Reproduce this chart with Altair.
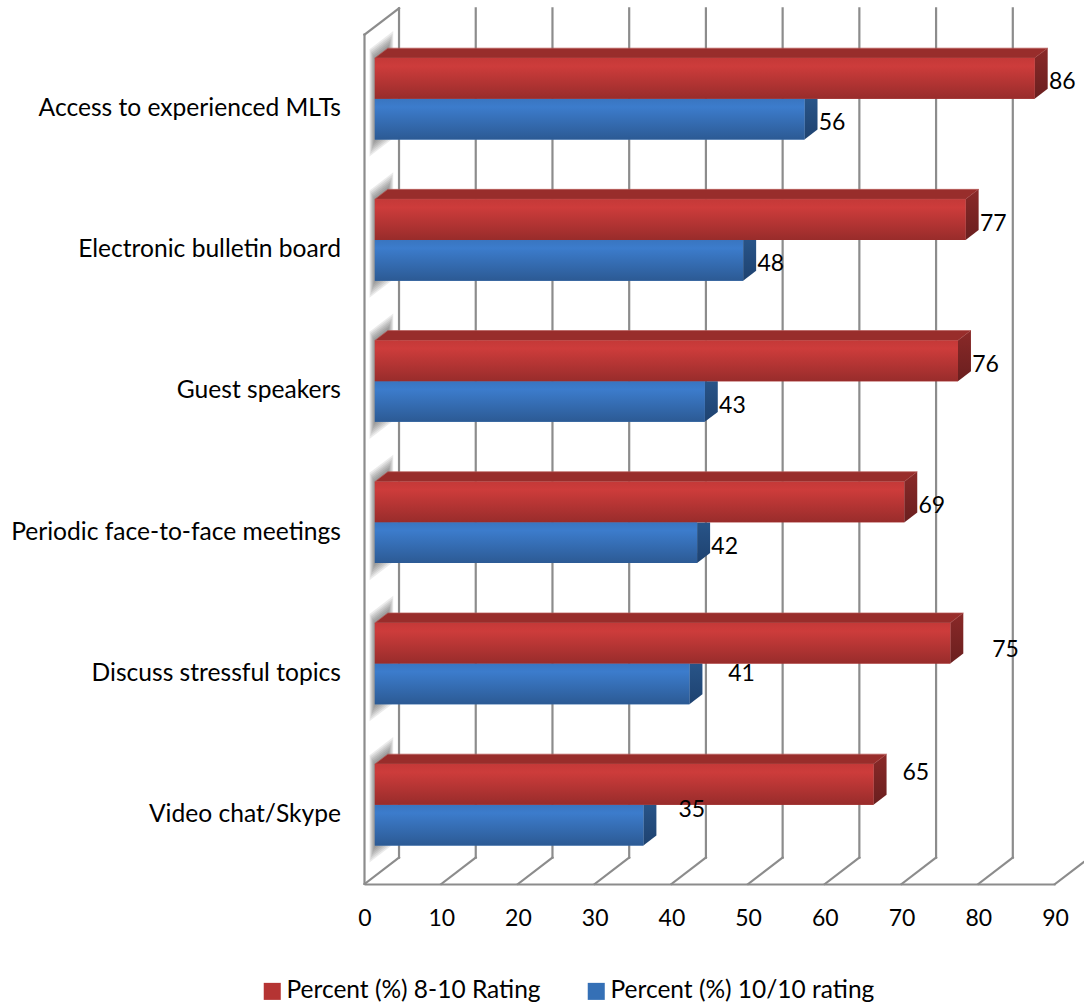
import json

import altair as alt
import pandas as pd

# Survey results, listed from the bottom row of the chart upward
CATEGORIES = [
    "Video chat/Skype",
    "Discuss stressful topics",
    "Periodic face-to-face meetings",
    "Guest speakers",
    "Electronic bulletin board",
    "Access to experienced MLTs",
]
HIGH_RATING = [65, 75, 69, 76, 77, 86]
TOP_RATING = [35, 41, 42, 43, 48, 56]
SERIES_HIGH = "Percent (%) 8-10 Rating"
SERIES_TOP = "Percent (%) 10/10 rating"
TICKS = list(range(0, 100, 10))

# Value labels that sit away from their usual spot: (series, row) -> (value units, row units)
LABEL_SHIFT = {
    (SERIES_HIGH, 1): (3.6, -0.02),
    (SERIES_TOP, 1): (3.2, 0.10),
    (SERIES_HIGH, 0): (1.9, 0.106),
    (SERIES_TOP, 0): (2.7, 0.134),
}

# Oblique projection of the chart box: depth 1 is the back wall
DEPTH_X = 4.5
DEPTH_Y = 0.187
BAR_FRONT = 0.30
BAR_BACK = 0.677
BAR_BOTTOM = 0.217
BAR_THICK = 0.288
WALL_TOP = 6.015
ROW_UNIT_PX = 141.2
FONT = "Lato"
GRID = "#8c8c8c"


def px(value, depth):
    return value + DEPTH_X * depth


def py(row, depth):
    return row + DEPTH_Y * depth


def gradient(*stops):
    return alt.LinearGradient(
        gradient="linear",
        x1=0, x2=0, y1=0, y2=1,
        stops=[alt.GradientStop(offset=o, color=c) for o, c in stops],
    )


x_scale = alt.Scale(domain=[0, 90], nice=False, zero=False)
y_scale = alt.Scale(domain=[0, 6.204], nice=False, zero=False)
X = lambda: alt.X("x:Q", scale=x_scale, title=None)
Y = lambda: alt.Y("y:Q", scale=y_scale, title=None)
X2 = alt.X2("x2:Q")
Y2 = alt.Y2("y2:Q")

# Box edges
edges = []
for t in TICKS:
    edges.append({"x": px(t, 1), "x2": px(t, 1), "y": py(0, 1), "y2": py(WALL_TOP, 1)})
    edges.append({"x": px(t, 0), "x2": px(t, 1), "y": py(0, 0), "y2": py(0, 1)})
edges.append({"x": px(0, 0), "x2": px(0, 0), "y": py(0, 0), "y2": py(WALL_TOP, 0)})
edges.append({"x": px(0, 0), "x2": px(0, 1), "y": py(WALL_TOP, 0), "y2": py(WALL_TOP, 1)})
edges_df = pd.DataFrame(edges)

# Soft shadow that each bar casts on the side wall, built from nested parallelograms
shadow = []
for row in range(len(CATEGORIES)):
    low = row + BAR_BOTTOM
    high = low + 2 * BAR_THICK
    for spread in (13, 11, 9, 7, 5, 3, 1):
        pad = spread / ROW_UNIT_PX
        wide = spread * 0.012
        for d in (BAR_FRONT - wide, BAR_BACK + wide):
            shadow.append({
                "x": px(0, d), "y": py(low - pad, d), "y2": py(high + pad, d),
                "group": f"{row}-{spread}",
            })
shadow_df = pd.DataFrame(shadow)


def bar_frames(values, series, row_base):
    """Front, top and end faces of one series' bars."""
    front, top, side = [], [], []
    for row, value in enumerate(values):
        low = row + row_base
        high = low + BAR_THICK
        front.append({"x": px(0, BAR_FRONT), "x2": px(value, BAR_FRONT),
                      "y": py(low, BAR_FRONT), "y2": py(high, BAR_FRONT), "series": series})
        for d in (BAR_FRONT, BAR_BACK):
            top.append({"y": py(high, d), "x": px(0, d), "x2": px(value, d), "group": row})
            # the lower series' end face stops where the upper bar starts
            side_high = py(high, d) if series == SERIES_HIGH else py(high, BAR_FRONT)
            side.append({"x": px(value, d), "y": py(low, d), "y2": side_high, "group": row})
    return pd.DataFrame(front), pd.DataFrame(top), pd.DataFrame(side)


high_front, high_top, high_side = bar_frames(HIGH_RATING, SERIES_HIGH, BAR_BOTTOM + BAR_THICK)
top_front, _, top_side = bar_frames(TOP_RATING, SERIES_TOP, BAR_BOTTOM)

labels = []
for series, values, row_base in (
    (SERIES_HIGH, HIGH_RATING, BAR_BOTTOM + BAR_THICK),
    (SERIES_TOP, TOP_RATING, BAR_BOTTOM),
):
    for row, value in enumerate(values):
        shift_x, shift_y = LABEL_SHIFT.get((series, row), (0, 0))
        labels.append({
            "x": px(value, BAR_FRONT) + 3.6 + shift_x,
            "y": row + row_base + BAR_THICK / 2 + DEPTH_Y * BAR_FRONT - 4 / ROW_UNIT_PX + shift_y,
            "label": str(value),
        })
labels_df = pd.DataFrame(labels)

label_lookup = json.dumps(CATEGORIES)

# Box edges carry the axes
axes = alt.Chart(edges_df).mark_rule(stroke=GRID, strokeWidth=2.2, strokeCap="square").encode(
    x=alt.X(
        "x:Q", scale=x_scale, title=None,
        axis=alt.Axis(
            values=TICKS, grid=False, ticks=False, domainColor=GRID, domainWidth=2.2,
            labelFont=FONT, labelFontSize=23, labelColor="#000000", labelPadding=23,
            labelFlush=False, labelOverlap=False, labelAngle=0,
        ),
    ),
    x2=X2,
    y=alt.Y(
        "y:Q", scale=y_scale, title=None,
        axis=alt.Axis(
            values=[i + 0.5 for i in range(len(CATEGORIES))],
            labelExpr=f"{label_lookup}[floor(datum.value)]",
            grid=False, ticks=False, domain=False,
            labelFont=FONT, labelFontSize=24.6, labelColor="#000000", labelPadding=24,
            labelOffset=1, labelOverlap=False, labelLimit=400,
        ),
    ),
    y2=Y2,
)

wall_shadow = alt.Chart(shadow_df).mark_area(
    orient="vertical", fill="#3c3c3c", opacity=0.1
).encode(x=X(), y=Y(), y2=Y2, detail="group:N")

# Solid base faces carry the legend; the shaded faces are laid over them
base_faces = alt.Chart(pd.concat([top_front, high_front])).mark_rect().encode(
    x=X(), x2=X2, y=Y(), y2=Y2,
    color=alt.Color(
        "series:N",
        scale=alt.Scale(domain=[SERIES_HIGH, SERIES_TOP], range=["#b53433", "#3570b6"]),
        legend=alt.Legend(
            title=None, orient="none", direction="horizontal",
            legendX=-104.5, legendY=971,
            symbolType="square", symbolSize=290, symbolStrokeWidth=0,
            labelFont=FONT, labelFontSize=24.5, labelColor="#000000",
            columnPadding=43, labelOffset=2, labelLimit=400,
        ),
    ),
)


def shaded_bar(front, side, front_fill, side_fill):
    return [
        alt.Chart(side).mark_area(orient="vertical", fill=side_fill).encode(
            x=X(), y=Y(), y2=Y2, detail="group:N"),
        alt.Chart(front).mark_rect(fill=front_fill).encode(x=X(), x2=X2, y=Y(), y2=Y2),
    ]


blue_parts = shaded_bar(
    top_front, top_side,
    gradient((0, "#3975c0"), (0.2, "#3c7ccc"), (1, "#2c5a94")),
    gradient((0, "#285488"), (1, "#1e4270")),
)
red_parts = shaded_bar(
    high_front, high_side,
    gradient((0, "#c43938"), (0.2, "#cd3c3b"), (1, "#982c2b")),
    gradient((0, "#8a2928"), (1, "#6a1f1f")),
)
red_top = alt.Chart(high_top).mark_area(
    orient="horizontal", fill="#982d2b", stroke="#b85a58", strokeWidth=0.7
).encode(y=Y(), x=X(), x2=X2, detail="group:N")

texts = alt.Chart(labels_df).mark_text(
    font=FONT, fontSize=23, color="#000000", align="center", baseline="middle"
).encode(x=X(), y=Y(), text="label:N")

chart = alt.layer(
    axes, wall_shadow, base_faces, *blue_parts, red_top, *red_parts, texts
).properties(
    width=690.5,
    height=876,
    padding={"left": 364.5, "top": 8, "right": 29, "bottom": 123},
    autosize=alt.AutoSizeParams(type="none"),
    background="#ffffff",
).configure_view(stroke=None)

chart.save("out.html", embed_options={"renderer": "svg", "actions": False})
